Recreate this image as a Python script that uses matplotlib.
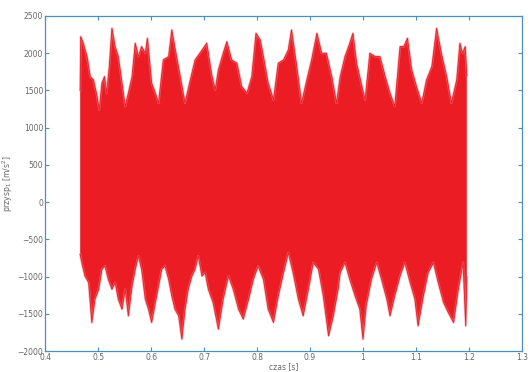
import matplotlib
matplotlib.use('Agg')
import matplotlib.pyplot as plt

# upper edge of the signal (time [s], acceleration [m/s^2])
top_t = [0.466, 0.467, 0.472, 0.479, 0.485, 0.491, 0.498, 0.502, 0.507, 0.512, 0.516, 0.521,
         0.526, 0.532, 0.538, 0.545, 0.551, 0.557, 0.564, 0.570, 0.576, 0.582, 0.589, 0.593,
         0.601, 0.608, 0.614, 0.623, 0.633, 0.639, 0.648, 0.655, 0.664, 0.674, 0.683, 0.692,
         0.705, 0.715, 0.721, 0.727, 0.736, 0.743, 0.752, 0.762, 0.771, 0.781, 0.790, 0.798,
         0.806, 0.812, 0.821, 0.831, 0.840, 0.850, 0.859, 0.865, 0.875, 0.884, 0.894, 0.903,
         0.913, 0.922, 0.931, 0.941, 0.950, 0.957, 0.966, 0.975, 0.981, 0.988, 0.998, 1.004,
         1.013, 1.023, 1.032, 1.042, 1.051, 1.060, 1.070, 1.077, 1.084, 1.092, 1.101, 1.111,
         1.120, 1.130, 1.139, 1.148, 1.158, 1.167, 1.177, 1.183, 1.188, 1.193, 1.196]
top_v = [1500, 2223, 2134, 1955, 1687, 1643, 1420, 1241, 1598, 1687, 1465, 1821,
         2335, 2089, 1955, 1598, 1286, 1465, 1687, 2134, 1955, 2089, 2000, 2201,
         1598, 1465, 1331, 1911, 1955, 2313, 1955, 1687, 1331, 1643, 1911, 2000,
         2134, 1687, 1509, 1777, 2000, 2156, 1911, 1866, 1553, 1465, 1687, 2268,
         2179, 1955, 1598, 1375, 1866, 1911, 2045, 2313, 1821, 1331, 1643, 1911,
         2268, 2000, 2000, 1687, 1331, 1687, 1955, 2134, 2268, 1866, 1553, 1375,
         2000, 1955, 1955, 1687, 1465, 1286, 2089, 2089, 2201, 1777, 1553, 1331,
         1643, 1821, 2335, 2000, 1687, 1331, 1643, 2134, 2000, 2089, 1700]

# lower edge of the signal
bot_t = [0.466, 0.469, 0.475, 0.482, 0.488, 0.494, 0.501, 0.507, 0.513, 0.519, 0.526, 0.532,
         0.538, 0.545, 0.551, 0.557, 0.564, 0.570, 0.576, 0.582, 0.589, 0.595, 0.601, 0.608,
         0.614, 0.620, 0.626, 0.633, 0.639, 0.645, 0.652, 0.658, 0.664, 0.670, 0.677, 0.683,
         0.689, 0.696, 0.702, 0.708, 0.717, 0.727, 0.736, 0.746, 0.755, 0.765, 0.774, 0.784,
         0.793, 0.802, 0.812, 0.821, 0.831, 0.840, 0.850, 0.859, 0.868, 0.878, 0.887, 0.897,
         0.906, 0.916, 0.925, 0.935, 0.944, 0.953, 0.957, 0.966, 0.975, 0.985, 0.994, 1.000,
         1.006, 1.016, 1.026, 1.035, 1.045, 1.051, 1.060, 1.070, 1.079, 1.089, 1.098, 1.104,
         1.114, 1.123, 1.133, 1.142, 1.152, 1.161, 1.171, 1.180, 1.189, 1.194, 1.196]
bot_v = [-700, -811, -991, -1079, -1615, -1303, -1169, -901, -856, -1035, -1169, -1079,
         -1303, -1437, -1169, -1526, -1125, -901, -723, -901, -1303, -1437, -1615, -1348,
         -1125, -901, -856, -1035, -1258, -1437, -1526, -1838, -1437, -1169, -991, -901,
         -723, -991, -946, -1169, -1347, -1704, -1303, -991, -1169, -1437, -1570, -1303,
         -1035, -856, -1035, -1437, -1615, -1258, -946, -678, -946, -1303, -1526, -1169,
         -811, -901, -1258, -1794, -1526, -1169, -946, -811, -1035, -1258, -1437, -1838,
         -1392, -1035, -811, -1035, -1303, -1526, -1258, -991, -811, -1079, -1303, -1660,
         -1258, -946, -811, -1079, -1347, -1481, -1615, -1169, -811, -1660, -1000]

xticks = [0.4, 0.5, 0.6, 0.7, 0.8, 0.9, 1, 1.1, 1.2, 1.3]
yticks = [-2000, -1500, -1000, -500, 0, 500, 1000, 1500, 2000, 2500]

fig = plt.figure(figsize=(5.32, 3.72), dpi=100)
ax = fig.add_axes([0.085, 0.056, 0.896, 0.901])

red = '#ec1c24'
pink = '#f27a7e'
poly_t = top_t + bot_t[::-1]
poly_v = top_v + bot_v[::-1]
# soft halo around the edges, then the solid body
ax.plot(top_t, top_v, color=pink, lw=1.6, alpha=0.6)
ax.plot(bot_t, bot_v, color=pink, lw=1.6, alpha=0.6)
ax.fill(poly_t, poly_v, color=red, lw=0)
ax.plot(top_t, top_v, color=red, lw=0.6)
ax.plot(bot_t, bot_v, color=red, lw=0.6)

ax.set_xlim(0.4, 1.3)
ax.set_ylim(-2000, 2500)
ax.set_xticks(xticks)
ax.set_xticklabels([str(x) for x in xticks])
ax.set_yticks(yticks)

axcol = '#4a90b8'
for s in ax.spines.values():
    s.set_color(axcol)
    s.set_linewidth(0.9)
ax.tick_params(direction='in', length=3, color=axcol, labelsize=5.5,
               labelcolor='#666666', top=True, right=True, pad=1.5)
ax.set_xlabel('czas [s]', fontsize=5.5, color='#666666', labelpad=0)
ax.set_ylabel('przysp$_1$ [m/s$^2$]', fontsize=5.5, color='#666666', labelpad=2)

plt.savefig('out.png', dpi=100)
